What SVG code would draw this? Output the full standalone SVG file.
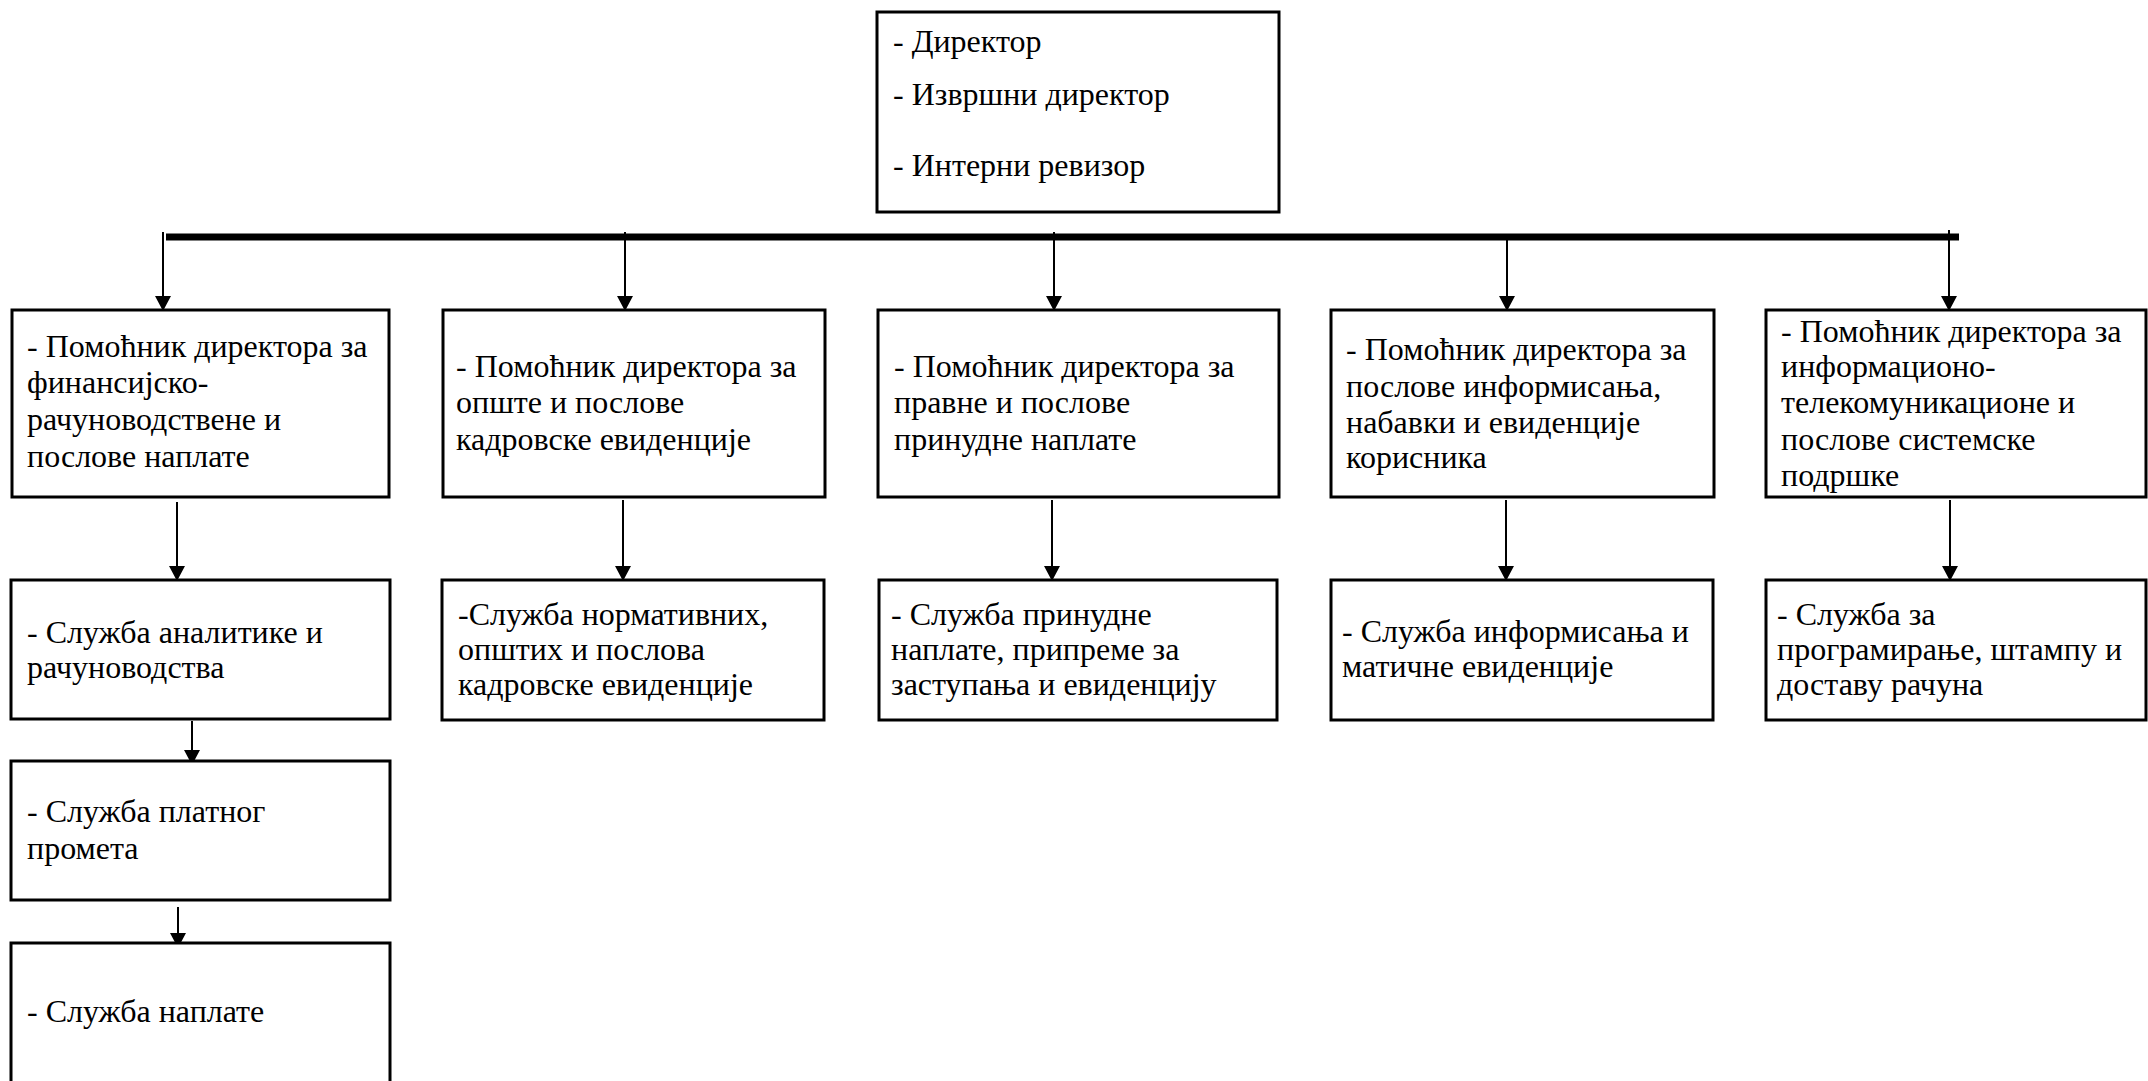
<svg xmlns="http://www.w3.org/2000/svg" width="2148" height="1081" viewBox="0 0 2148 1081">
<defs>
<marker id="ah" markerUnits="userSpaceOnUse" markerWidth="15" markerHeight="16" viewBox="0 0 15 16" refX="14" refY="8" orient="auto">
<path d="M0,0 L15,8 L0,16 z" fill="#000"/>
</marker>
<style>
.box{fill:#fff;stroke:#000;stroke-width:3}
.c{stroke:#000;stroke-width:2;fill:none;marker-end:url(#ah)}
text{font-family:"Liberation Serif","Times New Roman",serif;font-size:32px;fill:#000}
</style>
</defs>
<rect width="2148" height="1081" fill="#fff"/>
<g id="connectors">
<line x1="166" y1="237" x2="1959" y2="237" stroke="#000" stroke-width="7"/>
<line class="c" x1="163" y1="232" x2="163" y2="310"/>
<line class="c" x1="625" y1="232" x2="625" y2="310"/>
<line class="c" x1="1054" y1="232" x2="1054" y2="310"/>
<line class="c" x1="1507" y1="240" x2="1507" y2="310"/>
<line class="c" x1="1949" y1="230" x2="1949" y2="310"/>
<line class="c" x1="177" y1="502" x2="177" y2="580"/>
<line class="c" x1="623" y1="500" x2="623" y2="580"/>
<line class="c" x1="1052" y1="500" x2="1052" y2="580"/>
<line class="c" x1="1506" y1="500" x2="1506" y2="580"/>
<line class="c" x1="1950" y1="500" x2="1950" y2="580"/>
<line class="c" x1="192" y1="721" x2="192" y2="764"/>
<line class="c" x1="178" y1="907" x2="178" y2="947"/>
</g>
<g id="director">
<rect class="box" x="877" y="12" width="402" height="200"/>
<text x="893" y="52">- Директор</text>
<text x="893" y="105">- Извршни директор</text>
<text x="893" y="176">- Интерни ревизор</text>
</g>
<g id="pom-fin">
<rect class="box" x="12" y="310" width="377" height="187"/>
<text x="27" y="357">- Помоћник директора за</text>
<text x="27" y="393">финансијско-</text>
<text x="27" y="430">рачуноводствене и</text>
<text x="27" y="467">послове наплате</text>
</g>
<g id="pom-opste">
<rect class="box" x="443" y="310" width="382" height="187"/>
<text x="456" y="377">- Помоћник директора за</text>
<text x="456" y="413">опште и послове</text>
<text x="456" y="450">кадровске евиденције</text>
</g>
<g id="pom-pravne">
<rect class="box" x="878" y="310" width="401" height="187"/>
<text x="894" y="377">- Помоћник директора за</text>
<text x="894" y="413">правне и послове</text>
<text x="894" y="450">принудне наплате</text>
</g>
<g id="pom-info">
<rect class="box" x="1331" y="310" width="383" height="187"/>
<text x="1346" y="360">- Помоћник директора за</text>
<text x="1346" y="397">послове информисања,</text>
<text x="1346" y="433">набавки и евиденције</text>
<text x="1346" y="468">корисника</text>
</g>
<g id="pom-it">
<rect class="box" x="1766" y="310" width="380" height="187"/>
<text x="1781" y="342">- Помоћник директора за</text>
<text x="1781" y="377">информационо-</text>
<text x="1781" y="413">телекомуникационе и</text>
<text x="1781" y="450">послове системске</text>
<text x="1781" y="486">подршке</text>
</g>
<g id="sl-analitike">
<rect class="box" x="11" y="580" width="379" height="139"/>
<text x="27" y="643">- Служба аналитике и</text>
<text x="27" y="678">рачуноводства</text>
</g>
<g id="sl-normativnih">
<rect class="box" x="442" y="580" width="382" height="140"/>
<text x="458" y="625">-Служба нормативних,</text>
<text x="458" y="660">општих и послова</text>
<text x="458" y="695">кадровске евиденције</text>
</g>
<g id="sl-prinudne">
<rect class="box" x="879" y="580" width="398" height="140"/>
<text x="891" y="625">- Служба принудне</text>
<text x="891" y="660">наплате, припреме за</text>
<text x="891" y="695">заступања и евиденцију</text>
</g>
<g id="sl-informisanja">
<rect class="box" x="1331" y="580" width="382" height="140"/>
<text x="1342" y="642">- Служба информисања и</text>
<text x="1342" y="677">матичне евиденције</text>
</g>
<g id="sl-programiranje">
<rect class="box" x="1766" y="580" width="380" height="140"/>
<text x="1777" y="625">- Служба за</text>
<text x="1777" y="660">програмирање, штампу и</text>
<text x="1777" y="695">доставу рачуна</text>
</g>
<g id="sl-platnog">
<rect class="box" x="11" y="761" width="379" height="139"/>
<text x="27" y="822">- Служба платног</text>
<text x="27" y="859">промета</text>
</g>
<g id="sl-naplate">
<rect class="box" x="11" y="943" width="379" height="160"/>
<text x="27" y="1022">- Служба наплате</text>
</g>
</svg>
